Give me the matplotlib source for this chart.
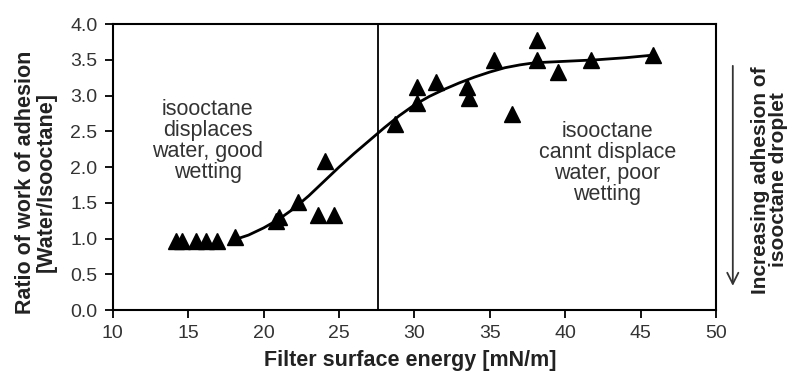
import matplotlib.pyplot as plt
from matplotlib.patches import FancyArrowPatch

plt.rcParams['font.family'] = ['Liberation Sans', 'DejaVu Sans']

# measured points
energy = [14.2, 14.6, 15.5, 16.2, 16.9, 18.1, 20.8, 21.0, 22.3, 23.6, 24.1, 24.7,
          28.7, 30.2, 30.2, 31.4, 33.5, 33.6, 35.3, 36.5, 38.1, 38.1, 39.5, 41.7, 45.8]
ratio = [0.97, 0.97, 0.97, 0.97, 0.97, 1.03, 1.25, 1.3, 1.51, 1.33, 2.09, 1.33,
         2.6, 3.12, 2.89, 3.19, 3.12, 2.96, 3.5, 2.75, 3.78, 3.5, 3.33, 3.5, 3.57]

# fitted curve
fit_x = [18, 19, 20, 21, 22, 23, 24, 25, 26, 27, 28, 29, 30, 31, 32, 33, 34, 35,
         36, 37, 38, 39, 40, 42, 44, 46]
fit_y = [0.98, 1.05, 1.15, 1.27, 1.42, 1.6, 1.8, 2.0, 2.19, 2.37, 2.55, 2.72, 2.87,
         2.99, 3.09, 3.18, 3.26, 3.33, 3.39, 3.43, 3.46, 3.47, 3.48, 3.5, 3.53, 3.57]

boundary = 27.6

fig = plt.figure(figsize=(8, 3.71), dpi=100)
ax = fig.add_axes([0.141, 0.164, 0.754, 0.771])

ax.plot(fit_x, fit_y, color='black', lw=2)
ax.plot(energy, ratio, '^', color='black', ms=11.5)
ax.axvline(boundary, color='black', lw=1.3)

ax.set_xlim(10, 50)
ax.set_ylim(0, 4)
ax.set_xticks(range(10, 51, 5))
ax.set_yticks([i * 0.5 for i in range(9)])
ax.set_yticklabels(['%.1f' % (i * 0.5) for i in range(9)])
ax.tick_params(direction='out', length=6, width=1.3, labelsize=14, pad=5,
               colors='black', labelcolor='#333333')
for s in ax.spines.values():
    s.set_linewidth(1.5)

ax.set_xlabel('Filter surface energy [mN/m]', fontsize=15.5, fontweight='bold',
              color='#222222')
ax.xaxis.set_label_coords(0.4925, -0.138)
ax.set_ylabel('Ratio of work of adhesion\n[Water/Isooctane]', fontsize=15.5,
              fontweight='bold', color='#222222', linespacing=1.0)
ax.yaxis.set_label_coords(-0.093, 0.448)

ax.text(16.3, 2.36, 'isooctane\ndisplaces\nwater, good\nwetting', ha='center',
        va='center', fontsize=15.5, color='#333333', linespacing=1.0)
ax.text(42.8, 2.06, 'isooctane\ncannt displace\nwater, poor\nwetting', ha='center',
        va='center', fontsize=15.5, color='#333333', linespacing=1.0)

fig.patches.append(FancyArrowPatch(
    (0.916, 0.83), (0.916, 0.222), transform=fig.transFigure,
    arrowstyle='->,head_width=4,head_length=8', color='#333333', lw=1.3))
fig.text(0.962, 0.515, 'Increasing adhesion of\nisooctane droplet', rotation=90,
         ha='center', va='center', fontsize=15, fontweight='bold', color='#222222',
         linespacing=0.95)

fig.savefig('out.png', dpi=100)
